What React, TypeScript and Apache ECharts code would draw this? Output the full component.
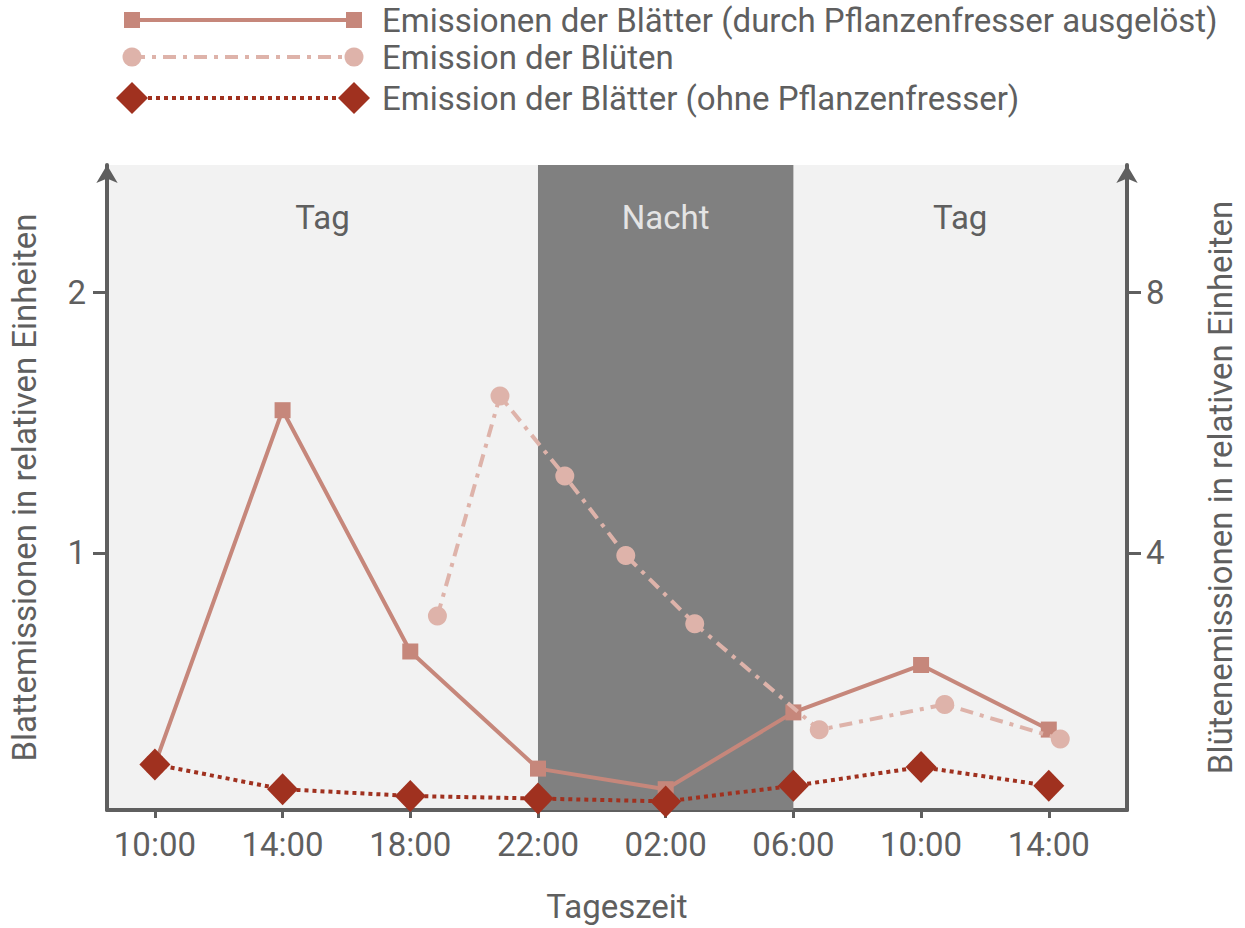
import { useEffect, useRef } from 'react'
import * as echarts from 'echarts'

// Messzeitpunkte (Stunden ab 0:00 des ersten Tages)
const hours = [10, 14, 18, 22, 26, 30, 34, 38]
const leafHerbivore = [0.187, 1.548, 0.621, 0.171, 0.092, 0.387, 0.569, 0.321]
const leafControl = [0.187, 0.092, 0.066, 0.056, 0.045, 0.105, 0.177, 0.105]

const flowerHours = [18.85, 20.81, 22.84, 24.75, 26.91, 30.81, 34.74, 38.36]
const flowerValues = [3.03, 6.41, 5.18, 3.96, 2.91, 1.28, 1.67, 1.14]

const tickHours = [10, 14, 18, 22, 26, 30, 34, 38]
const leftTicks = [1, 2]
const rightTicks = [4, 8]

const periods = [
  { name: 'Tag', from: 8.5, to: 22 },
  { name: 'Nacht', from: 22, to: 30 },
  { name: 'Tag', from: 30, to: 40.45 },
]

const legendNames = [
  'Emissionen der Blätter (durch Pflanzenfresser ausgelöst)',
  'Emission der Blüten',
  'Emission der Blätter (ohne Pflanzenfresser)',
]

const C_LEAF = '#c6877b'
const C_FLOWER = '#deb3aa'
const C_CONTROL = '#a0311f'
const C_AXIS = '#5f5f5f'
const FONT = 'Roboto'
const FS = 33

const fmtHour = (h: number) => `${String(h % 24).padStart(2, '0')}:00`

export default function App() {
  const chartRef = useRef<HTMLDivElement>(null)

  useEffect(() => {
    if (!chartRef.current) return
    document.body.style.margin = '0'
    const chart = echarts.init(chartRef.current, null, { renderer: 'svg' })

    const axisLine = { show: true, lineStyle: { color: C_AXIS, width: 4 } }
    const labelStyle = { color: C_AXIS, fontSize: FS, fontFamily: FONT }

    // Legende: Linie mit Symbol an beiden Enden
    const lx1 = 132
    const lx2 = 354
    const rows = [20, 57, 98]
    const legendGraphics: any[] = []
    const marker = (kind: number, x: number, y: number) => {
      if (kind === 0) return { type: 'rect', shape: { x: x - 8, y: y - 8, width: 16, height: 16 }, style: { fill: C_LEAF } }
      if (kind === 1) return { type: 'circle', shape: { cx: x, cy: y, r: 9.5 }, style: { fill: C_FLOWER } }
      return {
        type: 'polygon',
        shape: { points: [[x, y - 16], [x + 16, y], [x, y + 16], [x - 16, y]] },
        style: { fill: C_CONTROL },
      }
    }
    const dashes = [null, [13, 7, 4, 7], [4, 4]]
    const colors = [C_LEAF, C_FLOWER, C_CONTROL]
    rows.forEach((y, i) => {
      legendGraphics.push({
        type: 'line',
        shape: { x1: lx1, y1: y, x2: lx2, y2: y },
        style: { stroke: colors[i], lineWidth: 4, lineDash: dashes[i] || undefined },
      })
      legendGraphics.push(marker(i, lx1, y))
      legendGraphics.push(marker(i, lx2, y))
      legendGraphics.push({
        type: 'text',
        x: 382,
        y,
        style: {
          text: legendNames[i],
          fill: C_AXIS,
          font: `${FS}px ${FONT}`,
          verticalAlign: 'middle',
        },
      })
    })

    const option: echarts.EChartsOption = {
      animation: false,
      grid: {
        left: 101,
        right: 114,
        top: 165,
        bottom: 117,
        show: true,
        backgroundColor: '#f2f2f2',
        borderWidth: 0,
      },
      graphic: legendGraphics,
      xAxis: {
        type: 'value',
        min: 8.5,
        max: 40.45,
        name: 'Tageszeit',
        nameLocation: 'middle',
        nameGap: 80,
        nameTextStyle: { ...labelStyle },
        axisLine,
        axisTick: { show: true, customValues: tickHours, length: 8, lineStyle: { color: C_AXIS, width: 3 } },
        axisLabel: { ...labelStyle, customValues: tickHours, margin: 18, formatter: (v: number) => fmtHour(v) },
        splitLine: { show: false },
      },
      yAxis: [
        {
          type: 'value',
          min: 0.012,
          max: 2.49,
          position: 'left',
          name: 'Blattemissionen in relativen Einheiten',
          nameLocation: 'middle',
          nameRotate: 90,
          nameGap: 66,
          nameTextStyle: { ...labelStyle },
          axisLine: { ...axisLine, symbol: ['none', 'arrow'], symbolSize: [16, 18] },
          axisTick: { show: true, customValues: leftTicks, length: 14, lineStyle: { color: C_AXIS, width: 3 } },
          axisLabel: { ...labelStyle, customValues: leftTicks, margin: 21 },
          splitLine: { show: false },
        },
        {
          type: 'value',
          min: 0.048,
          max: 9.96,
          position: 'right',
          name: 'Blütenemissionen in relativen Einheiten',
          nameLocation: 'middle',
          nameRotate: 90,
          nameGap: 77,
          nameTextStyle: { ...labelStyle },
          axisLine: { ...axisLine, symbol: ['none', 'arrow'], symbolSize: [16, 18] },
          axisTick: { show: true, customValues: rightTicks, length: 14, lineStyle: { color: C_AXIS, width: 3 } },
          axisLabel: { ...labelStyle, customValues: rightTicks, margin: 19 },
          splitLine: { show: false },
        },
      ],
      series: [
        {
          type: 'line',
          data: [],
          z: 1,
          silent: true,
          markArea: {
            silent: true,
            data: periods.map((p) => [
              {
                xAxis: p.from,
                name: p.name,
                itemStyle: { color: p.name === 'Nacht' ? '#808080' : 'rgba(0,0,0,0)' },
                label: {
                  show: true,
                  position: 'insideTop',
                  distance: 36,
                  color: p.name === 'Nacht' ? '#e4e4e4' : C_AXIS,
                  fontSize: FS,
                  fontFamily: FONT,
                },
              },
              { xAxis: p.to },
            ]) as any,
          },
        },
        {
          name: legendNames[0],
          type: 'line',
          z: 3,
          data: hours.map((h, i) => [h, leafHerbivore[i]]),
          symbol: 'rect',
          symbolSize: 16,
          lineStyle: { color: C_LEAF, width: 4 },
          itemStyle: { color: C_LEAF },
        },
        {
          name: legendNames[1],
          type: 'line',
          z: 4,
          yAxisIndex: 1,
          data: flowerHours.map((h, i) => [h, flowerValues[i]]),
          symbol: 'circle',
          symbolSize: 19,
          lineStyle: { color: C_FLOWER, width: 4, type: [13, 7, 4, 7] },
          itemStyle: { color: C_FLOWER },
        },
        {
          name: legendNames[2],
          type: 'line',
          z: 5,
          data: hours.map((h, i) => [h, leafControl[i]]),
          symbol: 'diamond',
          symbolSize: [31, 32],
          lineStyle: { color: C_CONTROL, width: 4, type: [4, 4] },
          itemStyle: { color: C_CONTROL },
        },
      ],
    }

    chart.setOption(option)
    return () => chart.dispose()
  }, [])

  return <div ref={chartRef} style={{ width: 1245, height: 928 }} />
}
